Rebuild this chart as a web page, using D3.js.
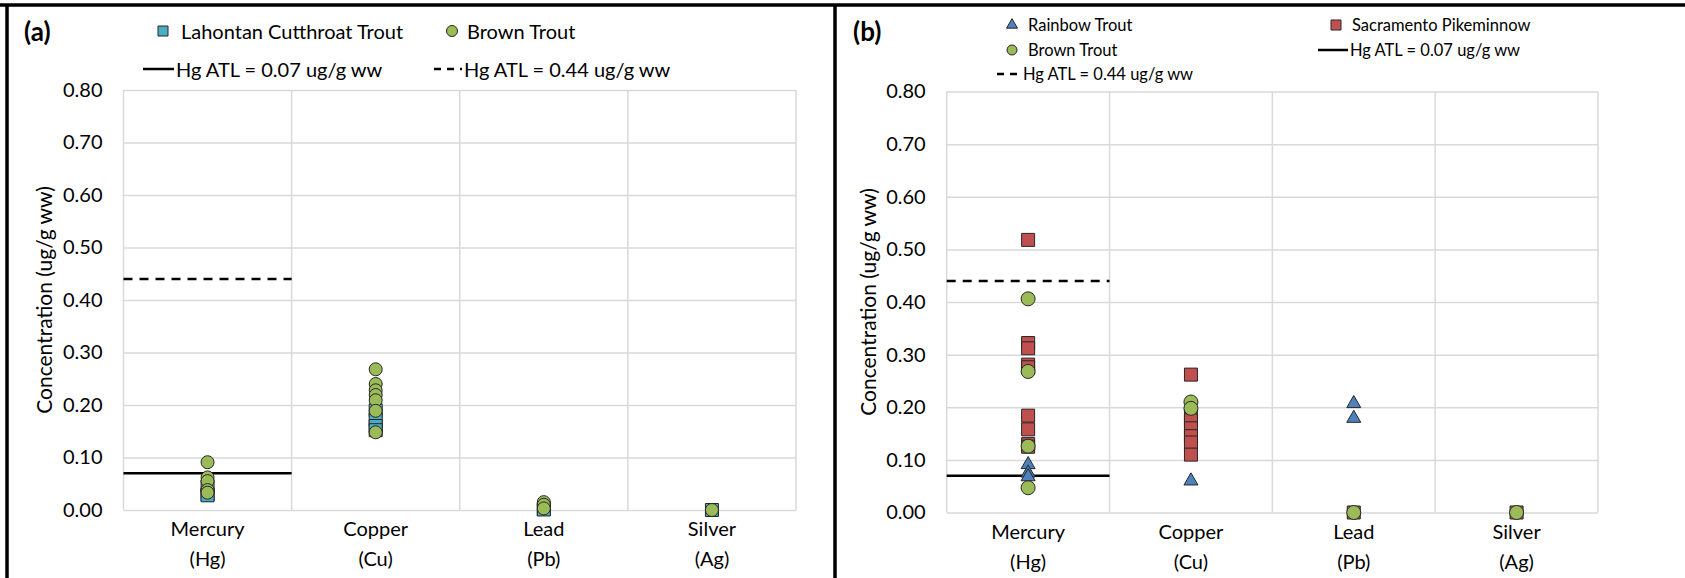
<!DOCTYPE html>
<html>
<head>
<meta charset="utf-8">
<script src="https://cdn.jsdelivr.net/npm/d3@7"></script>
<style>
  body { margin: 0; background: #fff; }
  svg text { font-family: Lato, "Liberation Sans", sans-serif; fill: #000; }
</style>
</head>
<body>
<svg id="chart" width="1685" height="578"></svg>
<script>
// Metals measured in fish tissue, by species (ug/g wet weight)
const categories = ["Mercury", "Copper", "Lead", "Silver"];
const categoryCodes = ["(Hg)", "(Cu)", "(Pb)", "(Ag)"];
const yTicks = [0, 0.1, 0.2, 0.3, 0.4, 0.5, 0.6, 0.7, 0.8];

// Mercury advisory tissue levels
const atlLow = 0.07;
const atlHigh = 0.44;

// Panel (a): one array of samples per metal
const lahontanCutthroatTrout = [
  [0.045, 0.030, 0.028],
  [0.190, 0.172, 0.160, 0.152],
  [0.002, 0.001],
  [0.000]
];
const brownTroutA = [
  [0.091, 0.062, 0.055, 0.038, 0.033],
  [0.268, 0.240, 0.228, 0.219, 0.209, 0.189, 0.148],
  [0.015, 0.010, 0.003],
  [0.000]
];

// Panel (b)
const rainbowTrout = [
  [0.091, 0.075, 0.068],
  [0.060],
  [0.207, 0.179],
  []
];
const sacramentoPikeminnow = [
  [0.518, 0.322, 0.312, 0.281, 0.276, 0.184, 0.158, 0.130, 0.125],
  [0.262, 0.186, 0.175, 0.160, 0.145, 0.133, 0.110],
  [0.000],
  [0.000]
];
const brownTroutB = [
  [0.406, 0.268, 0.126, 0.047],
  [0.210, 0.198],
  [0.000],
  [0.000]
];

const svg = d3.select("#chart");
const GRID = "#d9d9d9";
const EDGE = "#262626";

function markerPath(shape, size) {
  if (shape === "circle") return d3.symbol(d3.symbolCircle, Math.PI * size * size / 4)();
  if (shape === "square") return d3.symbol(d3.symbolSquare, size * size)();
  return d3.symbol(d3.symbolTriangle, Math.sqrt(3) / 4 * size * size)();
}

function drawPanel(p) {
  const g = svg.append("g");
  const x = d3.scaleBand().domain(categories).range([p.left, p.right]).padding(0);
  const y = d3.scaleLinear().domain([0, 0.8]).range([p.bottom, p.top]);

  // horizontal gridlines
  g.append("g")
    .attr("transform", `translate(${p.left},0)`)
    .call(d3.axisLeft(y).tickValues(yTicks).tickSize(-(p.right - p.left)).tickFormat(""))
    .call(a => a.select(".domain").remove())
    .call(a => a.selectAll("line").attr("stroke", GRID).attr("stroke-width", 1.5));

  // vertical gridlines at category boundaries
  const bounds = categories.map(c => x(c)).concat([p.right]);
  g.append("g").selectAll("line").data(bounds).join("line")
    .attr("x1", d => d).attr("x2", d => d)
    .attr("y1", p.top).attr("y2", p.bottom)
    .attr("stroke", GRID).attr("stroke-width", 1.5);

  // y tick labels
  g.append("g")
    .attr("transform", `translate(${p.left},0)`)
    .call(d3.axisLeft(y).tickValues(yTicks).tickSize(0).tickPadding(21).tickFormat(d3.format(".2f")))
    .call(a => a.select(".domain").remove())
    .call(a => a.selectAll("text").attr("font-size", 20).attr("font-family", "Lato, sans-serif").attr("fill", "#000"));

  // category labels (two lines)
  const xa = g.append("g")
    .attr("transform", `translate(0,${p.bottom})`)
    .call(d3.axisBottom(x).tickSize(0).tickFormat(""));
  xa.select(".domain").remove();
  xa.selectAll(".tick").each(function (d, i) {
    const t = d3.select(this).select("text")
      .attr("font-size", 20).attr("font-family", "Lato, sans-serif").attr("fill", "#000")
      .attr("y", 0).attr("dy", null);
    t.append("tspan").attr("x", 0).attr("y", 26).text(d);
    t.append("tspan").attr("x", 0).attr("y", 56).text(categoryCodes[i]);
  });

  // y axis title
  g.append("text")
    .attr("transform", `translate(${p.titleX},${(p.top + p.bottom) / 2}) rotate(-90)`)
    .attr("text-anchor", "middle").attr("dominant-baseline", "central")
    .attr("font-size", 21)
    .text("Concentration (ug/g ww)");

  // advisory tissue level lines over the mercury category
  const hgX0 = x(categories[0]), hgX1 = x(categories[0]) + x.bandwidth();
  g.append("line")
    .attr("x1", hgX0).attr("x2", hgX1).attr("y1", y(atlHigh)).attr("y2", y(atlHigh))
    .attr("stroke", "#000").attr("stroke-width", 2.5).attr("stroke-dasharray", "9,7");
  g.append("line")
    .attr("x1", hgX0).attr("x2", hgX1).attr("y1", y(atlLow)).attr("y2", y(atlLow))
    .attr("stroke", "#000").attr("stroke-width", 2.5);

  // sample markers
  p.series.forEach(s => {
    const pts = s.values.flatMap((vals, i) => vals.map(v => ({ c: categories[i], v })));
    g.append("g").selectAll("path").data(pts).join("path")
      .attr("d", markerPath(s.shape, s.size))
      .attr("transform", d => `translate(${x(d.c) + x.bandwidth() / 2},${y(d.v)})`)
      .attr("fill", s.fill).attr("stroke", EDGE).attr("stroke-width", 1);
  });

  // panel letter
  g.append("text")
    .attr("x", p.letterX).attr("y", p.letterY)
    .attr("font-size", 26).attr("font-weight", "bold")
    .attr("dominant-baseline", "central")
    .text(p.letter);

  // legend
  const lg = g.append("g");
  p.legend.forEach(item => {
    const row = lg.append("g");
    if (item.line) {
      row.append("line")
        .attr("x1", item.x).attr("x2", item.x + item.len)
        .attr("y1", item.y).attr("y2", item.y)
        .attr("stroke", "#000").attr("stroke-width", 2.5)
        .attr("stroke-dasharray", item.line === "dash" ? "7,6" : null);
      row.append("text")
        .attr("x", item.x + item.len + 2).attr("y", item.y)
        .attr("dominant-baseline", "central").attr("font-size", p.legendFont)
        .text(item.label);
    } else {
      row.append("path")
        .attr("d", markerPath(item.shape, item.size))
        .attr("transform", `translate(${item.x},${item.y})`)
        .attr("fill", item.fill).attr("stroke", EDGE).attr("stroke-width", 1);
      row.append("text")
        .attr("x", item.x + item.gap).attr("y", item.y)
        .attr("dominant-baseline", "central").attr("font-size", p.legendFont)
        .text(item.label);
    }
  });
}

const BLUE_SQ = "#4bacc6", GREEN = "#9bbb59", BLUE_TRI = "#4f81bd", RED = "#c0504d";

drawPanel({
  left: 123.5, right: 796, top: 90, bottom: 510, titleX: 43,
  letter: "(a)", letterX: 24, letterY: 31, legendFont: 20,
  series: [
    { values: lahontanCutthroatTrout, shape: "square", size: 13, fill: BLUE_SQ },
    { values: brownTroutA, shape: "circle", size: 13, fill: GREEN }
  ],
  legend: [
    { shape: "square", size: 10, fill: BLUE_SQ, x: 163, y: 31, gap: 18, label: "Lahontan Cutthroat Trout" },
    { shape: "circle", size: 11, fill: GREEN, x: 452, y: 31, gap: 15, label: "Brown Trout" },
    { line: "solid", x: 143, len: 31, y: 69, label: "Hg ATL = 0.07 ug/g ww" },
    { line: "dash", x: 434, len: 28, y: 69, label: "Hg ATL = 0.44 ug/g ww" }
  ]
});

drawPanel({
  left: 946.7, right: 1598, top: 91.5, bottom: 512.5, titleX: 867,
  letter: "(b)", letterX: 853, letterY: 31, legendFont: 16.5,
  series: [
    { values: sacramentoPikeminnow, shape: "square", size: 13, fill: RED },
    { values: rainbowTrout, shape: "triangle", size: 14, fill: BLUE_TRI },
    { values: brownTroutB, shape: "circle", size: 14, fill: GREEN }
  ],
  legend: [
    { shape: "triangle", size: 11, fill: BLUE_TRI, x: 1012, y: 25, gap: 16, label: "Rainbow Trout" },
    { shape: "square", size: 10, fill: RED, x: 1336, y: 25, gap: 16, label: "Sacramento Pikeminnow" },
    { shape: "circle", size: 10, fill: GREEN, x: 1012, y: 50, gap: 16, label: "Brown Trout" },
    { line: "solid", x: 1318, len: 30, y: 50, label: "Hg ATL = 0.07 ug/g ww" },
    { line: "dash", x: 997, len: 24, y: 74, label: "Hg ATL = 0.44 ug/g ww" }
  ]
});

// outer frame and panel divider
svg.append("path")
  .attr("d", "M0,5H1685 M7,5V578 M835,5V578")
  .attr("fill", "none").attr("stroke", "#000").attr("stroke-width", 3.5);
</script>
</body>
</html>
